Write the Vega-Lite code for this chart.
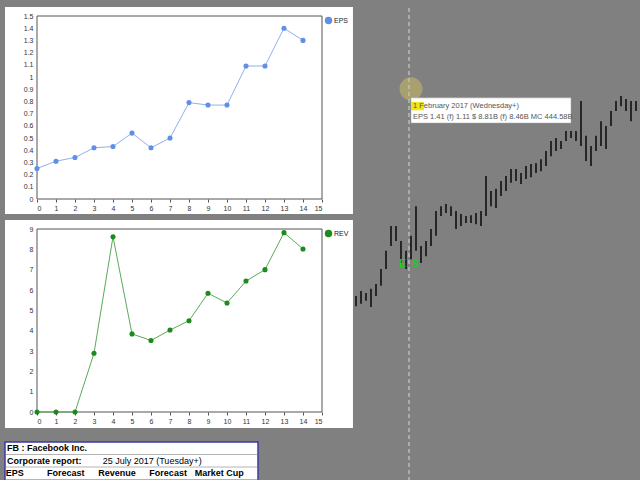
{
  "$schema": "https://vega.github.io/schema/vega-lite/v6.json",
  "background": "#808080",
  "padding": {"left": 4, "top": 6, "right": 0, "bottom": 0},
  "spacing": 1,
  "resolve": {"scale": {"color": "independent"}, "legend": {"color": "independent"}},
  "config": {
    "font": "Liberation Sans",
    "view": {"stroke": null},
    "axis": {
      "labelFont": "Liberation Sans", "labelFontSize": 7, "labelColor": "#333",
      "gridColor": "#e0e0e0", "domain": false, "tickColor": "#555", "tickSize": 3,
      "title": null, "zindex": 1, "labelOverlap": false
    },
    "legend": {
      "title": null, "orient": "right", "offset": 2, "padding": 0,
      "symbolType": "circle", "symbolSize": 55, "labelFont": "Liberation Sans",
      "labelFontSize": 7, "labelColor": "#222", "labelOffset": 1
    }
  },
  "hconcat": [
    {
      "spacing": 12,
      "resolve": {"scale": {"color": "independent"}, "legend": {"color": "independent"}},
      "vconcat": [
        {
          "spacing": 4,
          "resolve": {"scale": {"color": "independent"}, "legend": {"color": "independent"}},
          "vconcat": [
            {
              "width": 285, "height": 183,
              "data": {"values": [
                {"q": 0, "eps": 0.25, "series": "EPS"},
                {"q": 1, "eps": 0.31, "series": "EPS"},
                {"q": 2, "eps": 0.34, "series": "EPS"},
                {"q": 3, "eps": 0.42, "series": "EPS"},
                {"q": 4, "eps": 0.43, "series": "EPS"},
                {"q": 5, "eps": 0.54, "series": "EPS"},
                {"q": 6, "eps": 0.42, "series": "EPS"},
                {"q": 7, "eps": 0.50, "series": "EPS"},
                {"q": 8, "eps": 0.79, "series": "EPS"},
                {"q": 9, "eps": 0.77, "series": "EPS"},
                {"q": 10, "eps": 0.77, "series": "EPS"},
                {"q": 11, "eps": 1.09, "series": "EPS"},
                {"q": 12, "eps": 1.09, "series": "EPS"},
                {"q": 13, "eps": 1.40, "series": "EPS"},
                {"q": 14, "eps": 1.30, "series": "EPS"}
              ]},
              "layer": [
                {
                  "data": {"values": [{}]},
                  "mark": {"type": "rect", "fill": "white"},
                  "encoding": {
                    "x": {"datum": -1.684, "type": "quantitative", "scale": {"domain": [0, 15], "nice": false, "zero": false},
                      "axis": {"values": [0,1,2,3,4,5,6,7,8,9,10,11,12,13,14,15], "format": "d", "labelDx": 5, "labelPadding": 2, "zindex": 1, "labelOverlap": false}},
                    "x2": {"datum": 16.63},
                    "y": {"datum": -0.123, "type": "quantitative", "scale": {"domain": [0, 1.5], "nice": false, "zero": false},
                      "axis": {"values": [0,0.1,0.2,0.3,0.4,0.5,0.6,0.7,0.8,0.9,1,1.1,1.2,1.3,1.4,1.5], "format": "~g", "ticks": false, "labelPadding": 4, "zindex": 1, "labelOverlap": false}},
                    "y2": {"datum": 1.574}
                  }
                },
                {
                  "data": {"values": [{}]},
                  "mark": {"type": "rect", "filled": false, "stroke": "#555", "strokeWidth": 1},
                  "encoding": {
                    "x": {"datum": 0, "type": "quantitative", "scale": {"domain": [0, 15], "nice": false, "zero": false},
                      "axis": {"values": [0,1,2,3,4,5,6,7,8,9,10,11,12,13,14,15], "format": "d", "labelDx": 5, "labelPadding": 2, "zindex": 1, "labelOverlap": false}},
                    "x2": {"datum": 15},
                    "y": {"datum": 0, "type": "quantitative", "scale": {"domain": [0, 1.5], "nice": false, "zero": false},
                      "axis": {"values": [0,0.1,0.2,0.3,0.4,0.5,0.6,0.7,0.8,0.9,1,1.1,1.2,1.3,1.4,1.5], "format": "~g", "ticks": false, "labelPadding": 4, "zindex": 1, "labelOverlap": false}},
                    "y2": {"datum": 1.5}
                  }
                },
                {
                  "mark": {"type": "line", "color": "#8fb1ee", "strokeWidth": 1},
                  "encoding": {
                    "x": {"field": "q", "type": "quantitative", "scale": {"domain": [0, 15], "nice": false, "zero": false},
                      "axis": {"values": [0,1,2,3,4,5,6,7,8,9,10,11,12,13,14,15], "format": "d", "labelDx": 5, "labelPadding": 2, "zindex": 1, "labelOverlap": false}},
                    "y": {"field": "eps", "type": "quantitative", "scale": {"domain": [0, 1.5], "nice": false, "zero": false},
                      "axis": {"values": [0,0.1,0.2,0.3,0.4,0.5,0.6,0.7,0.8,0.9,1,1.1,1.2,1.3,1.4,1.5], "format": "~g", "ticks": false, "labelPadding": 4, "zindex": 1, "labelOverlap": false}}
                  }
                },
                {
                  "mark": {"type": "point", "filled": true, "size": 26, "opacity": 1},
                  "encoding": {
                    "x": {"field": "q", "type": "quantitative", "scale": {"domain": [0, 15], "nice": false, "zero": false},
                      "axis": {"values": [0,1,2,3,4,5,6,7,8,9,10,11,12,13,14,15], "format": "d", "labelDx": 5, "labelPadding": 2, "zindex": 1, "labelOverlap": false}},
                    "y": {"field": "eps", "type": "quantitative", "scale": {"domain": [0, 1.5], "nice": false, "zero": false},
                      "axis": {"values": [0,0.1,0.2,0.3,0.4,0.5,0.6,0.7,0.8,0.9,1,1.1,1.2,1.3,1.4,1.5], "format": "~g", "ticks": false, "labelPadding": 4, "zindex": 1, "labelOverlap": false}},
                    "color": {"field": "series", "type": "nominal", "scale": {"range": ["#5f8fe6"]}}
                  }
                }
              ]
            },
            {
              "width": 285, "height": 183,
              "data": {"values": [
                {"q": 0, "rev": 0, "series": "REV"},
                {"q": 1, "rev": 0, "series": "REV"},
                {"q": 2, "rev": 0, "series": "REV"},
                {"q": 3, "rev": 2.89, "series": "REV"},
                {"q": 4, "rev": 8.62, "series": "REV"},
                {"q": 5, "rev": 3.84, "series": "REV"},
                {"q": 6, "rev": 3.52, "series": "REV"},
                {"q": 7, "rev": 4.03, "series": "REV"},
                {"q": 8, "rev": 4.49, "series": "REV"},
                {"q": 9, "rev": 5.84, "series": "REV"},
                {"q": 10, "rev": 5.36, "series": "REV"},
                {"q": 11, "rev": 6.44, "series": "REV"},
                {"q": 12, "rev": 7.0, "series": "REV"},
                {"q": 13, "rev": 8.82, "series": "REV"},
                {"q": 14, "rev": 8.02, "series": "REV"}
              ]},
              "layer": [
                {
                  "data": {"values": [{}]},
                  "mark": {"type": "rect", "fill": "white"},
                  "encoding": {
                    "x": {"datum": -1.684, "type": "quantitative", "scale": {"domain": [0, 15], "nice": false, "zero": false},
                      "axis": {"values": [0,1,2,3,4,5,6,7,8,9,10,11,12,13,14,15], "format": "d", "labelDx": 5, "labelPadding": 2, "zindex": 1, "labelOverlap": false}},
                    "x2": {"datum": 16.63},
                    "y": {"datum": -0.787, "type": "quantitative", "scale": {"domain": [0, 9], "nice": false, "zero": false},
                      "axis": {"values": [0,1,2,3,4,5,6,7,8,9], "format": "d", "ticks": false, "labelPadding": 4, "zindex": 1, "labelOverlap": false}},
                    "y2": {"datum": 9.443}
                  }
                },
                {
                  "data": {"values": [{}]},
                  "mark": {"type": "rect", "filled": false, "stroke": "#555", "strokeWidth": 1},
                  "encoding": {
                    "x": {"datum": 0, "type": "quantitative", "scale": {"domain": [0, 15], "nice": false, "zero": false},
                      "axis": {"values": [0,1,2,3,4,5,6,7,8,9,10,11,12,13,14,15], "format": "d", "labelDx": 5, "labelPadding": 2, "zindex": 1, "labelOverlap": false}},
                    "x2": {"datum": 15},
                    "y": {"datum": 0, "type": "quantitative", "scale": {"domain": [0, 9], "nice": false, "zero": false},
                      "axis": {"values": [0,1,2,3,4,5,6,7,8,9], "format": "d", "ticks": false, "labelPadding": 4, "zindex": 1, "labelOverlap": false}},
                    "y2": {"datum": 9}
                  }
                },
                {
                  "mark": {"type": "line", "color": "#5aaa5a", "strokeWidth": 1},
                  "encoding": {
                    "x": {"field": "q", "type": "quantitative", "scale": {"domain": [0, 15], "nice": false, "zero": false},
                      "axis": {"values": [0,1,2,3,4,5,6,7,8,9,10,11,12,13,14,15], "format": "d", "labelDx": 5, "labelPadding": 2, "zindex": 1, "labelOverlap": false}},
                    "y": {"field": "rev", "type": "quantitative", "scale": {"domain": [0, 9], "nice": false, "zero": false},
                      "axis": {"values": [0,1,2,3,4,5,6,7,8,9], "format": "d", "ticks": false, "labelPadding": 4, "zindex": 1, "labelOverlap": false}}
                  }
                },
                {
                  "mark": {"type": "point", "filled": true, "size": 26, "opacity": 1},
                  "encoding": {
                    "x": {"field": "q", "type": "quantitative", "scale": {"domain": [0, 15], "nice": false, "zero": false},
                      "axis": {"values": [0,1,2,3,4,5,6,7,8,9,10,11,12,13,14,15], "format": "d", "labelDx": 5, "labelPadding": 2, "zindex": 1, "labelOverlap": false}},
                    "y": {"field": "rev", "type": "quantitative", "scale": {"domain": [0, 9], "nice": false, "zero": false},
                      "axis": {"values": [0,1,2,3,4,5,6,7,8,9], "format": "d", "ticks": false, "labelPadding": 4, "zindex": 1, "labelOverlap": false}},
                    "color": {"field": "series", "type": "nominal", "scale": {"range": ["#1e8a1e"]}}
                  }
                }
              ]
            }
          ]
        },
        {
          "width": 221, "height": 40,
          "layer": [
            {
              "data": {"values": [{}]},
              "mark": {"type": "rect", "fill": "white", "stroke": "#3a3aa8", "strokeWidth": 1.5},
              "encoding": {
                "x": {"datum": 0.81, "type": "quantitative", "axis": null, "scale": {"domain": [1.436, 5.757], "nice": false, "zero": false}},
                "x2": {"datum": 5.757}
              }
            },
            {
              "data": {"values": [{"row": "r2"}, {"row": "r3"}, {"row": "r4"}]},
              "mark": {"type": "rule", "color": "#b4b4b4", "strokeWidth": 1},
              "encoding": {
                "x": {"datum": 0.83, "type": "quantitative"},
                "x2": {"datum": 5.74},
                "y": {"field": "row", "type": "ordinal", "bandPosition": 0, "axis": null,
                  "scale": {"type": "band", "domain": ["r1", "r2", "r3", "r4"], "range": [0, 50], "paddingInner": 0, "paddingOuter": 0}}
              }
            },
            {
              "data": {"values": [
                {"row": "r1", "label": "FB : Facebook Inc."},
                {"row": "r2", "label": "Corporate report:"}
              ]},
              "mark": {"type": "text", "align": "left", "baseline": "middle", "fontSize": 9, "fontWeight": "bold", "color": "#000"},
              "encoding": {
                "x": {"datum": 0.85, "type": "quantitative"},
                "y": {"field": "row", "type": "ordinal"},
                "text": {"field": "label"}
              }
            },
            {
              "data": {"values": [
                {"row": "r2", "label": "25 July 2017 (Tuesday+)"}
              ]},
              "mark": {"type": "text", "align": "left", "baseline": "middle", "fontSize": 9, "color": "#000"},
              "encoding": {
                "x": {"datum": 2.72, "type": "quantitative"},
                "y": {"field": "row", "type": "ordinal"},
                "text": {"field": "label"}
              }
            },
            {
              "data": {"values": [
                {"row": "r3", "c": 1, "label": "EPS"},
                {"row": "r3", "c": 2, "label": "Forecast"},
                {"row": "r3", "c": 3, "label": "Revenue"},
                {"row": "r3", "c": 4, "label": "Forecast"},
                {"row": "r3", "c": 5, "label": "Market Cup"}
              ]},
              "mark": {"type": "text", "align": "center", "baseline": "middle", "fontSize": 9, "fontWeight": "bold", "color": "#000"},
              "encoding": {
                "x": {"field": "c", "type": "quantitative"},
                "y": {"field": "row", "type": "ordinal"},
                "text": {"field": "label"}
              }
            }
          ]
        }
      ]
    },
    {
      "width": 287, "height": 465,
      "layer": [
        {
          "data": {"values": [
            {"t": 0, "lo": 115.5, "hi": 118.2},
            {"t": 1, "lo": 116.1, "hi": 119.5},
            {"t": 2, "lo": 116.9, "hi": 119.0},
            {"t": 3, "lo": 115.3, "hi": 120.1},
            {"t": 4, "lo": 118.2, "hi": 121.4},
            {"t": 5, "lo": 120.9, "hi": 125.4},
            {"t": 6, "lo": 125.4, "hi": 130.2},
            {"t": 7, "lo": 131.5, "hi": 136.8},
            {"t": 8, "lo": 132.8, "hi": 136.8},
            {"t": 9, "lo": 127.0, "hi": 132.8},
            {"t": 10, "lo": 125.4, "hi": 130.2},
            {"t": 11, "lo": 128.0, "hi": 134.2},
            {"t": 12, "lo": 130.2, "hi": 142.1},
            {"t": 13, "lo": 127.0, "hi": 131.5},
            {"t": 14, "lo": 128.8, "hi": 132.8},
            {"t": 15, "lo": 131.5, "hi": 136.0},
            {"t": 16, "lo": 134.2, "hi": 140.8},
            {"t": 17, "lo": 139.5, "hi": 142.1},
            {"t": 18, "lo": 140.3, "hi": 142.7},
            {"t": 19, "lo": 139.5, "hi": 142.1},
            {"t": 20, "lo": 136.0, "hi": 140.8},
            {"t": 21, "lo": 136.8, "hi": 140.0},
            {"t": 22, "lo": 137.6, "hi": 139.5},
            {"t": 23, "lo": 137.6, "hi": 139.7},
            {"t": 24, "lo": 137.3, "hi": 140.3},
            {"t": 25, "lo": 136.8, "hi": 140.8},
            {"t": 26, "lo": 139.5, "hi": 150.1},
            {"t": 27, "lo": 142.1, "hi": 146.1},
            {"t": 28, "lo": 141.6, "hi": 146.7},
            {"t": 29, "lo": 144.8, "hi": 148.8},
            {"t": 30, "lo": 146.1, "hi": 150.1},
            {"t": 31, "lo": 148.3, "hi": 152.0},
            {"t": 32, "lo": 148.8, "hi": 152.0},
            {"t": 33, "lo": 148.0, "hi": 150.9},
            {"t": 34, "lo": 149.3, "hi": 152.8},
            {"t": 35, "lo": 149.8, "hi": 153.3},
            {"t": 36, "lo": 150.9, "hi": 153.6},
            {"t": 37, "lo": 151.4, "hi": 154.6},
            {"t": 38, "lo": 152.8, "hi": 156.8},
            {"t": 39, "lo": 155.4, "hi": 159.4},
            {"t": 40, "lo": 156.8, "hi": 160.2},
            {"t": 41, "lo": 157.3, "hi": 159.4},
            {"t": 42, "lo": 159.4, "hi": 162.1},
            {"t": 43, "lo": 160.2, "hi": 162.1},
            {"t": 44, "lo": 159.4, "hi": 162.1},
            {"t": 45, "lo": 158.1, "hi": 170.1},
            {"t": 46, "lo": 154.1, "hi": 160.8},
            {"t": 47, "lo": 152.8, "hi": 158.1},
            {"t": 48, "lo": 156.8, "hi": 160.8},
            {"t": 49, "lo": 158.1, "hi": 164.7},
            {"t": 50, "lo": 157.3, "hi": 163.4},
            {"t": 51, "lo": 163.4, "hi": 167.4},
            {"t": 52, "lo": 167.4, "hi": 170.1},
            {"t": 53, "lo": 168.7, "hi": 171.4},
            {"t": 54, "lo": 167.4, "hi": 170.6},
            {"t": 55, "lo": 164.7, "hi": 170.1},
            {"t": 56, "lo": 167.4, "hi": 170.1},
            {"t": 57, "lo": 168.7, "hi": 171.9}
          ]},
          "mark": {"type": "rule", "color": "#000", "strokeWidth": 1.4},
          "encoding": {
            "x": {"field": "t", "type": "quantitative", "axis": null, "scale": {"domain": [-0.4, 57], "nice": false, "zero": false}},
            "y": {"field": "lo", "type": "quantitative", "axis": null, "scale": {"domain": [68.98, 192.68], "nice": false, "zero": false}},
            "y2": {"field": "hi"}
          }
        },
        {
          "data": {"values": [{}]},
          "mark": {"type": "rule", "color": "#d8d8d8", "strokeWidth": 1, "strokeDash": [4, 3]},
          "encoding": {
            "x": {"datum": 10.6, "type": "quantitative"},
            "y": {"datum": 68.98, "type": "quantitative"}, "y2": {"datum": 195.0}
          }
        },
        {
          "data": {"values": [{}]},
          "mark": {"type": "point", "filled": true, "size": 530, "color": "#d6c860", "opacity": 0.45},
          "encoding": {"x": {"datum": 11, "type": "quantitative"}, "y": {"datum": 173.3, "type": "quantitative"}}
        },
        {
          "data": {"values": [{}]},
          "mark": {"type": "rect", "fill": "#ffffff", "stroke": "#a0a0a0", "strokeWidth": 0.5},
          "encoding": {
            "x": {"datum": 11, "type": "quantitative"}, "x2": {"datum": 43},
            "y": {"datum": 164.2, "type": "quantitative"}, "y2": {"datum": 170.9}
          }
        },
        {
          "data": {"values": [{}]},
          "mark": {"type": "rect", "fill": "#f2e21a"},
          "encoding": {
            "x": {"datum": 11, "type": "quantitative"}, "x2": {"datum": 13.6},
            "y": {"datum": 167.6, "type": "quantitative"}, "y2": {"datum": 169.8}
          }
        },
        {
          "data": {"values": [{}]},
          "mark": {"type": "text", "text": "1 February 2017 (Wednesday+)", "align": "left", "baseline": "middle", "fontSize": 7.5, "color": "#555"},
          "encoding": {"x": {"datum": 11.4, "type": "quantitative"}, "y": {"datum": 168.7, "type": "quantitative"}}
        },
        {
          "data": {"values": [{}]},
          "mark": {"type": "text", "text": "EPS  1.41 (f) 1.11 $  8.81B (f) 8.46B MC 444.58B", "align": "left", "baseline": "middle", "fontSize": 7.5, "color": "#555"},
          "encoding": {"x": {"datum": 11.4, "type": "quantitative"}, "y": {"datum": 165.8, "type": "quantitative"}}
        },
        {
          "data": {"values": [{}]},
          "mark": {"type": "text", "text": "E", "align": "center", "baseline": "middle", "fontSize": 10, "fontWeight": "bold", "color": "#1ccc1c"},
          "encoding": {"x": {"datum": 9.3, "type": "quantitative"}, "y": {"datum": 126.7, "type": "quantitative"}}
        },
        {
          "data": {"values": [{}]},
          "mark": {"type": "text", "text": "S", "align": "center", "baseline": "middle", "fontSize": 10, "fontWeight": "bold", "color": "#1ccc1c"},
          "encoding": {"x": {"datum": 11.9, "type": "quantitative"}, "y": {"datum": 126.7, "type": "quantitative"}}
        }
      ]
    }
  ]
}
